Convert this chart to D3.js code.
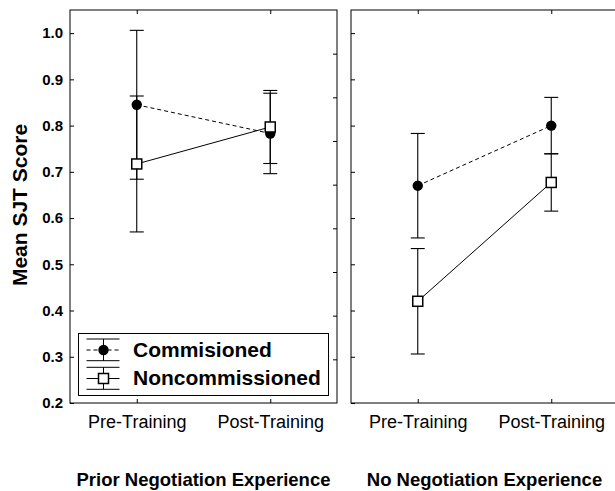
<!DOCTYPE html>
<html><head><meta charset="utf-8">
<script src="https://cdn.jsdelivr.net/npm/d3@7"></script>
<style>
body{margin:0;background:#fff;}
svg{display:block;font-family:"Liberation Sans",Arial,sans-serif;}
</style></head>
<body>
<svg id="chart" width="615" height="491"></svg>
<script>
// ---- data ----
const phases = ["Pre-Training", "Post-Training"];
const panels = ["Prior Negotiation Experience", "No Negotiation Experience"];
const seriesNames = ["Commisioned", "Noncommissioned"];
// means [panel][phase]
const commMean = [[0.845, 0.783], [0.670, 0.800]];
const commErr  = [[0.161, 0.087], [0.113, 0.061]];
const noncMean = [[0.717, 0.797], [0.420, 0.677]];
const noncErr  = [[0.147, 0.079], [0.114, 0.062]];
const yTicks = [0.2, 0.3, 0.4, 0.5, 0.6, 0.7, 0.8, 0.9, 1.0];
const yLabel = "Mean SJT Score";

// ---- layout ----
const svg = d3.select("#chart");
const plotTop = 10, plotBottom = 403, panelW = 267;
const panelX = [70, 351];
const y = d3.scaleLinear().domain([0.2, 1.05]).range([plotBottom, plotTop]);
const yRight = d3.scaleLinear().domain([0, 9]).range([plotBottom, plotTop]);
const x = d3.scalePoint().domain(phases).range([0, panelW]).padding(0.5);

const series = [
  {name: seriesNames[0], mean: commMean, err: commErr, dash: "4,3", marker: "circle"},
  {name: seriesNames[1], mean: noncMean, err: noncErr, dash: null, marker: "square"}
];

function drawMarker(g, type, cx, cy) {
  if (type === "circle") {
    g.append("circle").attr("cx", cx).attr("cy", cy).attr("r", 5.2).attr("fill", "#000");
  } else {
    g.append("rect").attr("x", cx - 5).attr("y", cy - 5).attr("width", 10).attr("height", 10)
      .attr("fill", "#fff").attr("stroke", "#000").attr("stroke-width", 1.5);
  }
}

panels.forEach((title, p) => {
  const g = svg.append("g").attr("transform", `translate(${panelX[p]},0)`);
  g.append("rect").attr("x", 0).attr("y", plotTop).attr("width", p === 0 ? panelW : panelW + 4).attr("height", plotBottom - plotTop)
    .attr("fill", "none").attr("stroke", "#000").attr("stroke-width", 1);

  const la = d3.axisLeft(y).tickValues(yTicks).tickSize(-4).tickPadding(7)
    .tickFormat(p === 0 ? d3.format(".1f") : () => "");
  const gl = g.append("g").call(la);
  gl.select(".domain").remove();
  gl.selectAll("text").attr("font-size", 15).attr("font-weight", "bold").attr("fill", "#000")
    .attr("font-family", "Liberation Sans, Arial, sans-serif");

  if (p === 0) {
    const ra = d3.axisRight(yRight).tickValues(d3.range(1, 9)).tickSize(-4).tickFormat(() => "");
    const gr = g.append("g").attr("transform", `translate(${panelW},0)`).call(ra);
    gr.select(".domain").remove();
  }

  const ta = d3.axisTop(x).tickSize(-4).tickFormat(() => "");
  const gt = g.append("g").attr("transform", `translate(0,${plotTop})`).call(ta);
  gt.select(".domain").remove();

  const ba = d3.axisBottom(x).tickSize(-4).tickPadding(12);
  const gb = g.append("g").attr("transform", `translate(0,${plotBottom})`).call(ba);
  gb.select(".domain").remove();
  gb.selectAll("text").attr("font-size", 18).attr("fill", "#000")
    .attr("font-family", "Liberation Sans, Arial, sans-serif");

  g.append("text").attr("x", panelW / 2).attr("y", 486).attr("text-anchor", "middle")
    .attr("font-size", 18.5).attr("font-weight", "bold").text(title);

  series.forEach(s => {
    const pts = phases.map((ph, i) => ({x: x(ph), m: s.mean[p][i], e: s.err[p][i]}));
    g.append("path").attr("d", d3.line().x(d => d.x).y(d => y(d.m))(pts))
      .attr("fill", "none").attr("stroke", "#000").attr("stroke-width", 1)
      .attr("stroke-dasharray", s.dash);
    pts.forEach(d => {
      const eb = g.append("g").attr("stroke", "#000").attr("stroke-width", 1.1);
      eb.append("line").attr("x1", d.x).attr("x2", d.x).attr("y1", y(d.m - d.e)).attr("y2", y(d.m + d.e));
      [d.m - d.e, d.m + d.e].forEach(v => {
        eb.append("line").attr("x1", d.x - 7).attr("x2", d.x + 7).attr("y1", y(v)).attr("y2", y(v));
      });
    });
  });
  series.forEach(s => {
    phases.forEach((ph, i) => drawMarker(g, s.marker, x(ph), y(s.mean[p][i])));
  });
});

// y label
svg.append("text").attr("transform", "translate(26.5,205) rotate(-90)").attr("text-anchor", "middle")
  .attr("font-size", 21).attr("font-weight", "bold").text(yLabel);

// legend
const lg = svg.append("g").attr("transform", "translate(78.5,333.5)");
lg.append("rect").attr("width", 250).attr("height", 62).attr("fill", "#fff").attr("stroke", "#000").attr("stroke-width", 1);
const rows = [{cy: 16.5, cap: [5.5, 27.2]}, {cy: 45, cap: [33.8, 55.8]}];
series.forEach((s, i) => {
  const r = rows[i];
  const gi = lg.append("g");
  gi.append("line").attr("x1", 8).attr("x2", 41).attr("y1", r.cy).attr("y2", r.cy)
    .attr("stroke", "#000").attr("stroke-dasharray", s.dash);
  gi.append("line").attr("x1", 25).attr("x2", 25).attr("y1", r.cap[0]).attr("y2", r.cap[1]).attr("stroke", "#000");
  r.cap.forEach(cy => gi.append("line").attr("x1", 8).attr("x2", 41).attr("y1", cy).attr("y2", cy).attr("stroke", "#000"));
  drawMarker(gi, s.marker, 25, r.cy);
  gi.append("text").attr("x", 54.5).attr("y", r.cy + 6.7).attr("font-size", 21).attr("font-weight", "bold").text(s.name);
});
</script>
</body></html>
